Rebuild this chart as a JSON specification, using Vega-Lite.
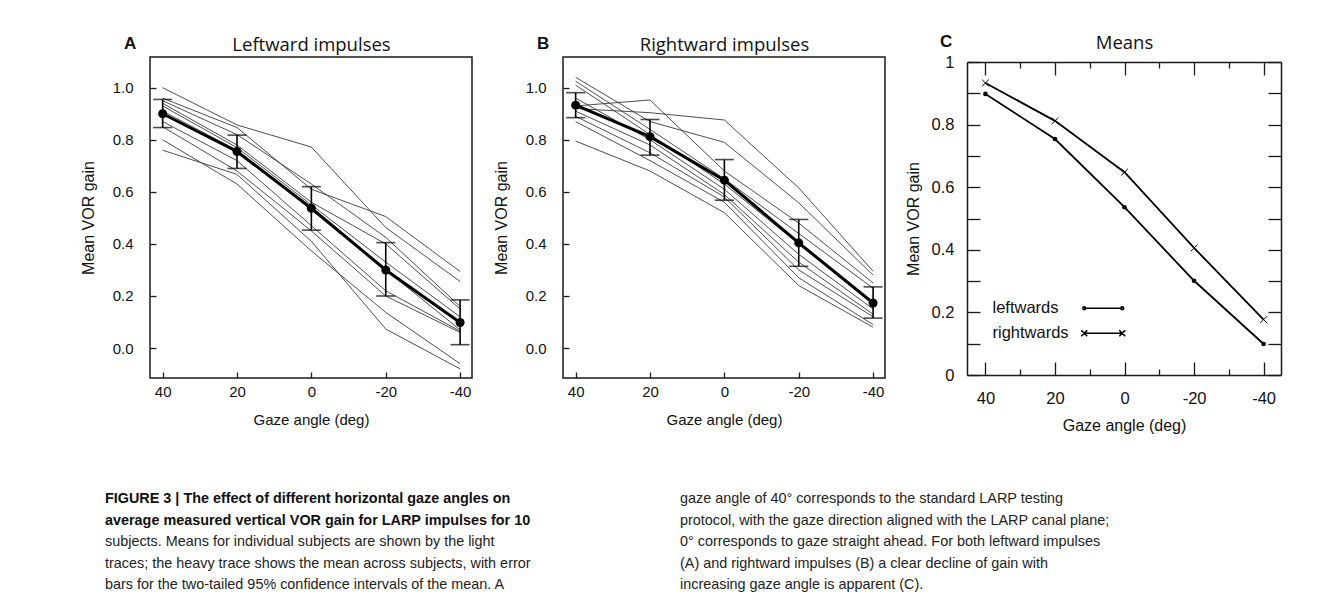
{
  "$schema": "https://vega.github.io/schema/vega-lite/v6.json",
  "background": "white",
  "padding": {"left": 79, "top": 33, "right": 10, "bottom": 5},
  "config": {
    "font": "Liberation Sans",
    "view": {"stroke": "#1a1a1a", "strokeWidth": 1.5},
    "axis": {"grid": false, "domain": false, "labelColor": "#111", "titleColor": "#111", "tickColor": "#1a1a1a", "tickWidth": 1.3, "domainColor": "#1a1a1a", "domainWidth": 1.5, "labelFont": "Liberation Sans", "titleFont": "Liberation Sans", "titleFontWeight": "normal"},
    "title": {"color": "#111"}
  },
  "datasets": {
    "subjectsA": [
      {"subject": "S1", "angle": 40, "gain": 1.0}, {"subject": "S1", "angle": 20, "gain": 0.857}, {"subject": "S1", "angle": 0, "gain": 0.772}, {"subject": "S1", "angle": -20, "gain": 0.463}, {"subject": "S1", "angle": -40, "gain": 0.256},
      {"subject": "S2", "angle": 40, "gain": 0.96}, {"subject": "S2", "angle": 20, "gain": 0.847}, {"subject": "S2", "angle": 0, "gain": 0.61}, {"subject": "S2", "angle": -20, "gain": 0.505}, {"subject": "S2", "angle": -40, "gain": 0.294},
      {"subject": "S3", "angle": 40, "gain": 0.95}, {"subject": "S3", "angle": 20, "gain": 0.82}, {"subject": "S3", "angle": 0, "gain": 0.63}, {"subject": "S3", "angle": -20, "gain": 0.425}, {"subject": "S3", "angle": -40, "gain": 0.16},
      {"subject": "S4", "angle": 40, "gain": 0.94}, {"subject": "S4", "angle": 20, "gain": 0.78}, {"subject": "S4", "angle": 0, "gain": 0.56}, {"subject": "S4", "angle": -20, "gain": 0.4}, {"subject": "S4", "angle": -40, "gain": 0.15},
      {"subject": "S5", "angle": 40, "gain": 0.93}, {"subject": "S5", "angle": 20, "gain": 0.77}, {"subject": "S5", "angle": 0, "gain": 0.55}, {"subject": "S5", "angle": -20, "gain": 0.33}, {"subject": "S5", "angle": -40, "gain": 0.12},
      {"subject": "S6", "angle": 40, "gain": 0.91}, {"subject": "S6", "angle": 20, "gain": 0.76}, {"subject": "S6", "angle": 0, "gain": 0.53}, {"subject": "S6", "angle": -20, "gain": 0.3}, {"subject": "S6", "angle": -40, "gain": 0.07},
      {"subject": "S7", "angle": 40, "gain": 0.87}, {"subject": "S7", "angle": 20, "gain": 0.72}, {"subject": "S7", "angle": 0, "gain": 0.47}, {"subject": "S7", "angle": -20, "gain": 0.22}, {"subject": "S7", "angle": -40, "gain": 0.065},
      {"subject": "S8", "angle": 40, "gain": 0.85}, {"subject": "S8", "angle": 20, "gain": 0.68}, {"subject": "S8", "angle": 0, "gain": 0.45}, {"subject": "S8", "angle": -20, "gain": 0.2}, {"subject": "S8", "angle": -40, "gain": 0.06},
      {"subject": "S9", "angle": 40, "gain": 0.8}, {"subject": "S9", "angle": 20, "gain": 0.63}, {"subject": "S9", "angle": 0, "gain": 0.373}, {"subject": "S9", "angle": -20, "gain": 0.137}, {"subject": "S9", "angle": -40, "gain": -0.06},
      {"subject": "S10", "angle": 40, "gain": 0.76}, {"subject": "S10", "angle": 20, "gain": 0.667}, {"subject": "S10", "angle": 0, "gain": 0.41}, {"subject": "S10", "angle": -20, "gain": 0.073}, {"subject": "S10", "angle": -40, "gain": -0.08}
    ],
    "meansA": [
      {"angle": 40, "mean": 0.9, "lo": 0.847, "hi": 0.955},
      {"angle": 20, "mean": 0.755, "lo": 0.69, "hi": 0.818},
      {"angle": 0, "mean": 0.537, "lo": 0.453, "hi": 0.62},
      {"angle": -20, "mean": 0.3, "lo": 0.2, "hi": 0.405},
      {"angle": -40, "mean": 0.098, "lo": 0.013, "hi": 0.185}
    ],
    "subjectsB": [
      {"subject": "S1", "angle": 40, "gain": 0.92}, {"subject": "S1", "angle": 20, "gain": 0.904}, {"subject": "S1", "angle": 0, "gain": 0.876}, {"subject": "S1", "angle": -20, "gain": 0.615}, {"subject": "S1", "angle": -40, "gain": 0.295},
      {"subject": "S2", "angle": 40, "gain": 1.04}, {"subject": "S2", "angle": 20, "gain": 0.87}, {"subject": "S2", "angle": 0, "gain": 0.79}, {"subject": "S2", "angle": -20, "gain": 0.558}, {"subject": "S2", "angle": -40, "gain": 0.28},
      {"subject": "S3", "angle": 40, "gain": 0.93}, {"subject": "S3", "angle": 20, "gain": 0.953}, {"subject": "S3", "angle": 0, "gain": 0.68}, {"subject": "S3", "angle": -20, "gain": 0.48}, {"subject": "S3", "angle": -40, "gain": 0.25},
      {"subject": "S4", "angle": 40, "gain": 1.025}, {"subject": "S4", "angle": 20, "gain": 0.84}, {"subject": "S4", "angle": 0, "gain": 0.65}, {"subject": "S4", "angle": -20, "gain": 0.44}, {"subject": "S4", "angle": -40, "gain": 0.23},
      {"subject": "S5", "angle": 40, "gain": 1.01}, {"subject": "S5", "angle": 20, "gain": 0.82}, {"subject": "S5", "angle": 0, "gain": 0.63}, {"subject": "S5", "angle": -20, "gain": 0.4}, {"subject": "S5", "angle": -40, "gain": 0.17},
      {"subject": "S6", "angle": 40, "gain": 0.96}, {"subject": "S6", "angle": 20, "gain": 0.8}, {"subject": "S6", "angle": 0, "gain": 0.61}, {"subject": "S6", "angle": -20, "gain": 0.36}, {"subject": "S6", "angle": -40, "gain": 0.15},
      {"subject": "S7", "angle": 40, "gain": 0.91}, {"subject": "S7", "angle": 20, "gain": 0.78}, {"subject": "S7", "angle": 0, "gain": 0.59}, {"subject": "S7", "angle": -20, "gain": 0.33}, {"subject": "S7", "angle": -40, "gain": 0.13},
      {"subject": "S8", "angle": 40, "gain": 0.89}, {"subject": "S8", "angle": 20, "gain": 0.75}, {"subject": "S8", "angle": 0, "gain": 0.58}, {"subject": "S8", "angle": -20, "gain": 0.3}, {"subject": "S8", "angle": -40, "gain": 0.12},
      {"subject": "S9", "angle": 40, "gain": 0.87}, {"subject": "S9", "angle": 20, "gain": 0.72}, {"subject": "S9", "angle": 0, "gain": 0.56}, {"subject": "S9", "angle": -20, "gain": 0.27}, {"subject": "S9", "angle": -40, "gain": 0.09},
      {"subject": "S10", "angle": 40, "gain": 0.795}, {"subject": "S10", "angle": 20, "gain": 0.68}, {"subject": "S10", "angle": 0, "gain": 0.52}, {"subject": "S10", "angle": -20, "gain": 0.24}, {"subject": "S10", "angle": -40, "gain": 0.08}
    ],
    "meansB": [
      {"angle": 40, "mean": 0.933, "lo": 0.885, "hi": 0.981},
      {"angle": 20, "mean": 0.812, "lo": 0.741, "hi": 0.878},
      {"angle": 0, "mean": 0.645, "lo": 0.568, "hi": 0.724},
      {"angle": -20, "mean": 0.404, "lo": 0.314, "hi": 0.494},
      {"angle": -40, "mean": 0.173, "lo": 0.115, "hi": 0.235}
    ],
    "meansC": [
      {"direction": "leftwards", "angle": 40, "gain": 0.898}, {"direction": "leftwards", "angle": 20, "gain": 0.754}, {"direction": "leftwards", "angle": 0, "gain": 0.536}, {"direction": "leftwards", "angle": -20, "gain": 0.301}, {"direction": "leftwards", "angle": -40, "gain": 0.099},
      {"direction": "rightwards", "angle": 40, "gain": 0.933}, {"direction": "rightwards", "angle": 20, "gain": 0.812}, {"direction": "rightwards", "angle": 0, "gain": 0.648}, {"direction": "rightwards", "angle": -20, "gain": 0.406}, {"direction": "rightwards", "angle": -40, "gain": 0.177}
    ],
    "caption": [
      {"col": "left", "line": 1, "kind": "heading", "text": "FIGURE 3 | The effect of different horizontal gaze angles on"},
      {"col": "left", "line": 2, "kind": "heading", "text": "average measured vertical VOR gain for LARP impulses for 10"},
      {"col": "left", "line": 3, "kind": "body", "text": "subjects. Means for individual subjects are shown by the light"},
      {"col": "left", "line": 4, "kind": "body", "text": "traces; the heavy trace shows the mean across subjects, with error"},
      {"col": "left", "line": 5, "kind": "body", "text": "bars for the two-tailed 95% confidence intervals of the mean. A"},
      {"col": "right", "line": 1, "kind": "body", "text": "gaze angle of 40° corresponds to the standard LARP testing"},
      {"col": "right", "line": 2, "kind": "body", "text": "protocol, with the gaze direction aligned with the LARP canal plane;"},
      {"col": "right", "line": 3, "kind": "body", "text": "0° corresponds to gaze straight ahead. For both leftward impulses"},
      {"col": "right", "line": 4, "kind": "body", "text": "(A) and rightward impulses (B) a clear decline of gain with"},
      {"col": "right", "line": 5, "kind": "body", "text": "increasing gaze angle is apparent (C)."}
    ]
  },
  "resolve": {"legend": {"shape": "independent"}},
  "vconcat": [
    {
      "resolve": {"legend": {"shape": "independent"}},
      "hconcat": [
        {
          "width": 322, "height": 321,
          "title": {"text": "A", "anchor": "start", "frame": "group", "dx": -26, "offset": -26, "baseline": "middle", "fontSize": 17, "fontWeight": "bold", "font": "Liberation Sans"},
          "resolve": {"axis": {"x": "independent"}},
          "layer": [
            {
              "data": {"name": "subjectsA"},
              "mark": {"type": "line", "color": "#3a3a3a", "strokeWidth": 0.9},
              "encoding": {
                "x": {"field": "angle", "type": "quantitative", "scale": {"domain": [43.4, -43.2], "nice": false, "zero": false},
                      "axis": {"orient": "bottom", "values": [40, 20, 0, -20, -40], "tickSize": -6, "labelPadding": 12, "labelFontSize": 15, "labelExpr": "'' + datum.value", "title": "Gaze angle (deg)", "titleFontSize": 15, "titlePadding": 13}},
                "y": {"field": "gain", "type": "quantitative", "title": "Mean VOR gain", "scale": {"domain": [-0.115, 1.118], "nice": false, "zero": false},
                      "axis": {"values": [0, 0.2, 0.4, 0.6, 0.8, 1], "format": ".1f", "tickSize": -6, "labelPadding": 23, "labelFontSize": 15, "titleFontSize": 16, "titlePadding": 16}},
                "detail": {"field": "subject", "type": "nominal"}
              }
            },
            {
              "data": {"name": "meansA"},
              "mark": {"type": "errorbar", "ticks": {"size": 19, "thickness": 1.6, "color": "black"}, "rule": {"strokeWidth": 1.6, "color": "black"}},
              "encoding": {
                "x": {"field": "angle", "type": "quantitative", "scale": {"domain": [43.4, -43.2], "nice": false, "zero": false}, "axis": null},
                "y": {"field": "lo", "type": "quantitative", "title": "Mean VOR gain", "scale": {"domain": [-0.115, 1.118], "nice": false, "zero": false}},
                "y2": {"field": "hi"}
              }
            },
            {
              "data": {"name": "meansA"},
              "mark": {"type": "line", "color": "black", "strokeWidth": 3},
              "encoding": {
                "x": {"field": "angle", "type": "quantitative", "scale": {"domain": [43.4, -43.2], "nice": false, "zero": false},
                      "axis": {"orient": "top", "ticks": false, "labels": false, "title": "Leftward impulses", "titleFont": "Open Sans", "titleFontSize": 18.5, "titleBaseline": "middle", "titlePadding": 13}},
                "y": {"field": "mean", "type": "quantitative", "title": "Mean VOR gain", "scale": {"domain": [-0.115, 1.118], "nice": false, "zero": false}}
              }
            },
            {
              "data": {"name": "meansA"},
              "mark": {"type": "circle", "color": "black", "size": 81, "opacity": 1},
              "encoding": {
                "x": {"field": "angle", "type": "quantitative", "scale": {"domain": [43.4, -43.2], "nice": false, "zero": false}, "axis": null},
                "y": {"field": "mean", "type": "quantitative", "title": "Mean VOR gain", "scale": {"domain": [-0.115, 1.118], "nice": false, "zero": false}}
              }
            }
          ]
        },
        {
          "width": 322, "height": 321,
          "title": {"text": "B", "anchor": "start", "frame": "group", "dx": -26, "offset": -26, "baseline": "middle", "fontSize": 17, "fontWeight": "bold", "font": "Liberation Sans"},
          "resolve": {"axis": {"x": "independent"}},
          "layer": [
            {
              "data": {"name": "subjectsB"},
              "mark": {"type": "line", "color": "#3a3a3a", "strokeWidth": 0.9},
              "encoding": {
                "x": {"field": "angle", "type": "quantitative", "scale": {"domain": [43.4, -43.2], "nice": false, "zero": false},
                      "axis": {"orient": "bottom", "values": [40, 20, 0, -20, -40], "tickSize": -6, "labelPadding": 12, "labelFontSize": 15, "labelExpr": "'' + datum.value", "title": "Gaze angle (deg)", "titleFontSize": 15, "titlePadding": 13}},
                "y": {"field": "gain", "type": "quantitative", "title": "Mean VOR gain", "scale": {"domain": [-0.115, 1.118], "nice": false, "zero": false},
                      "axis": {"values": [0, 0.2, 0.4, 0.6, 0.8, 1], "format": ".1f", "tickSize": -6, "labelPadding": 23, "labelFontSize": 15, "titleFontSize": 16, "titlePadding": 16}},
                "detail": {"field": "subject", "type": "nominal"}
              }
            },
            {
              "data": {"name": "meansB"},
              "mark": {"type": "errorbar", "ticks": {"size": 19, "thickness": 1.6, "color": "black"}, "rule": {"strokeWidth": 1.6, "color": "black"}},
              "encoding": {
                "x": {"field": "angle", "type": "quantitative", "scale": {"domain": [43.4, -43.2], "nice": false, "zero": false}, "axis": null},
                "y": {"field": "lo", "type": "quantitative", "title": "Mean VOR gain", "scale": {"domain": [-0.115, 1.118], "nice": false, "zero": false}},
                "y2": {"field": "hi"}
              }
            },
            {
              "data": {"name": "meansB"},
              "mark": {"type": "line", "color": "black", "strokeWidth": 3},
              "encoding": {
                "x": {"field": "angle", "type": "quantitative", "scale": {"domain": [43.4, -43.2], "nice": false, "zero": false},
                      "axis": {"orient": "top", "ticks": false, "labels": false, "title": "Rightward impulses", "titleFont": "Open Sans", "titleFontSize": 18.5, "titleBaseline": "middle", "titlePadding": 13}},
                "y": {"field": "mean", "type": "quantitative", "title": "Mean VOR gain", "scale": {"domain": [-0.115, 1.118], "nice": false, "zero": false}}
              }
            },
            {
              "data": {"name": "meansB"},
              "mark": {"type": "circle", "color": "black", "size": 81, "opacity": 1},
              "encoding": {
                "x": {"field": "angle", "type": "quantitative", "scale": {"domain": [43.4, -43.2], "nice": false, "zero": false}, "axis": null},
                "y": {"field": "mean", "type": "quantitative", "title": "Mean VOR gain", "scale": {"domain": [-0.115, 1.118], "nice": false, "zero": false}}
              }
            }
          ]
        },
        {
          "width": 314, "height": 318,
          "view": {"stroke": null},
          "title": {"text": "C", "anchor": "start", "frame": "group", "dx": -27, "offset": -26, "baseline": "middle", "fontSize": 17, "fontWeight": "bold", "font": "Liberation Sans"},
          "resolve": {"axis": {"x": "independent", "y": "independent"}, "legend": {"shape": "independent"}},
          "data": {"name": "meansC"},
          "layer": [
            {
              "mark": {"type": "line", "color": "black", "strokeWidth": 1.8},
              "encoding": {
                "x": {"field": "angle", "type": "quantitative", "scale": {"domain": [45.3, -45], "nice": false, "zero": false},
                      "axis": {"orient": "bottom", "domain": true, "values": [40, 20, 0, -20, -40], "tickSize": -13, "labelPadding": 28, "labelFontSize": 16.5, "labelExpr": "'' + datum.value", "title": "Gaze angle (deg)", "titleFontSize": 16, "titlePadding": 11}},
                "y": {"field": "gain", "type": "quantitative", "scale": {"domain": [0, 1], "range": [318, 5], "nice": false, "zero": false},
                      "axis": {"orient": "left", "domain": true, "values": [0, 0.1, 0.2, 0.3, 0.4, 0.5, 0.6, 0.7, 0.8, 0.9, 1], "tickSize": -13, "labelPadding": 26, "labelFontSize": 16.5, "labelExpr": "round(datum.value * 10) % 2 === 0 ? format(datum.value, '~g') : ''", "title": "Mean VOR gain", "titleFontSize": 16, "titlePadding": 10}},
                "detail": {"field": "direction", "type": "nominal"}
              }
            },
            {
              "mark": {"type": "line", "opacity": 0},
              "encoding": {
                "x": {"field": "angle", "type": "quantitative", "scale": {"domain": [45.3, -45], "nice": false, "zero": false},
                      "axis": {"orient": "bottom", "values": [30, 10, -10, -30], "tickSize": -6, "labels": false, "title": null}},
                "y": {"field": "gain", "type": "quantitative", "scale": {"domain": [0, 1], "range": [318, 5], "nice": false, "zero": false},
                      "axis": {"orient": "right", "domain": true, "values": [0, 0.1, 0.2, 0.3, 0.4, 0.5, 0.6, 0.7, 0.8, 0.9, 1], "tickSize": -13, "labels": false, "title": null}},
                "detail": {"field": "direction", "type": "nominal"}
              }
            },
            {
              "mark": {"type": "line", "opacity": 0},
              "encoding": {
                "x": {"field": "angle", "type": "quantitative", "scale": {"domain": [45.3, -45], "nice": false, "zero": false},
                      "axis": {"orient": "top", "offset": -5, "values": [30, 10, -10, -30], "tickSize": -6, "labels": false, "title": null}},
                "y": {"field": "gain", "type": "quantitative", "scale": {"domain": [0, 1], "range": [318, 5], "nice": false, "zero": false}, "axis": null},
                "detail": {"field": "direction", "type": "nominal"}
              }
            },
            {
              "transform": [{"filter": "datum.direction === 'leftwards'"}],
              "mark": {"type": "point", "shape": "circle", "filled": true, "color": "black", "size": 22, "opacity": 1},
              "encoding": {
                "x": {"field": "angle", "type": "quantitative", "scale": {"domain": [45.3, -45], "nice": false, "zero": false},
                      "axis": {"orient": "top", "offset": -5, "domain": true, "values": [40, 20, 0, -20, -40], "tickSize": -13, "labels": false, "title": "Means", "titleFont": "Open Sans", "titleFontSize": 18.5, "titleBaseline": "middle", "titlePadding": 19}},
                "y": {"field": "gain", "type": "quantitative", "scale": {"domain": [0, 1], "range": [318, 5], "nice": false, "zero": false}, "axis": null}
              }
            },
            {
              "transform": [{"filter": "datum.direction === 'rightwards'"}],
              "mark": {"type": "point", "shape": "M-1.5,-1.5L1.5,1.5M-1.5,1.5L1.5,-1.5", "filled": false, "color": "black", "strokeWidth": 1, "size": 20, "opacity": 1},
              "encoding": {
                "x": {"field": "angle", "type": "quantitative", "scale": {"domain": [45.3, -45], "nice": false, "zero": false}, "axis": null},
                "y": {"field": "gain", "type": "quantitative", "scale": {"domain": [0, 1], "range": [318, 5], "nice": false, "zero": false}, "axis": null}
              }
            },
            {
              "transform": [{"filter": "false"}],
              "mark": {"type": "point", "filled": false, "color": "black", "strokeWidth": 1.6, "opacity": 1},
              "encoding": {
                "x": {"field": "angle", "type": "quantitative", "scale": {"domain": [45.3, -45], "nice": false, "zero": false}, "axis": null},
                "y": {"field": "gain", "type": "quantitative", "scale": {"domain": [0, 1], "range": [318, 5], "nice": false, "zero": false}, "axis": null},
                "shape": {"field": "direction", "type": "nominal",
                          "scale": {"domain": ["leftwards", "rightwards"], "range": ["M-9.5,0L9.5,0M-8.8,0A0.7,0.7 0 1,1 -10.2,0A0.7,0.7 0 1,1 -8.8,0M10.2,0A0.7,0.7 0 1,1 8.8,0A0.7,0.7 0 1,1 10.2,0", "M-9.5,0L9.5,0M-11,-1.5L-8,1.5M-11,1.5L-8,-1.5M8,-1.5L11,1.5M8,1.5L11,-1.5"]},
                          "legend": {"title": null, "orient": "none", "legendX": 128, "legendY": 243, "padding": 0, "rowPadding": 8, "labelFontSize": 16.5, "labelFont": "Liberation Sans", "labelColor": "#111", "labelAlign": "left", "labelOffset": -119, "symbolSize": 16, "symbolStrokeWidth": 1.6, "symbolStrokeColor": "black", "symbolFillColor": "black", "symbolOpacity": 1}}
              }
            }
          ]
        }
      ],
      "spacing": 19
    },
    {
      "width": 575, "height": 102,
      "view": {"stroke": null, "fill": "white"},
      "data": {"name": "caption"},
      "layer": [
        {
          "transform": [{"filter": "datum.kind === 'heading'"}],
          "mark": {"type": "text", "align": "left", "baseline": "middle", "fontSize": 14.4, "fontWeight": "bold", "font": "Liberation Sans", "color": "#111"},
          "encoding": {
            "x": {"field": "col", "type": "nominal", "scale": {"type": "point", "domain": ["left", "right"], "range": [-45, 530], "padding": 0}, "axis": null},
            "y": {"field": "line", "type": "ordinal", "scale": {"type": "point", "domain": [1, 2, 3, 4, 5], "range": [8, 94], "padding": 0}, "axis": null},
            "text": {"field": "text"}
          }
        },
        {
          "transform": [{"filter": "datum.kind === 'body'"}],
          "mark": {"type": "text", "align": "left", "baseline": "middle", "fontSize": 14.4, "font": "Liberation Sans", "color": "#222"},
          "encoding": {
            "x": {"field": "col", "type": "nominal", "scale": {"type": "point", "domain": ["left", "right"], "range": [-45, 530], "padding": 0}, "axis": null},
            "y": {"field": "line", "type": "ordinal", "scale": {"type": "point", "domain": [1, 2, 3, 4, 5], "range": [8, 94], "padding": 0}, "axis": null},
            "text": {"field": "text"}
          }
        }
      ]
    }
  ],
  "spacing": 57
}
